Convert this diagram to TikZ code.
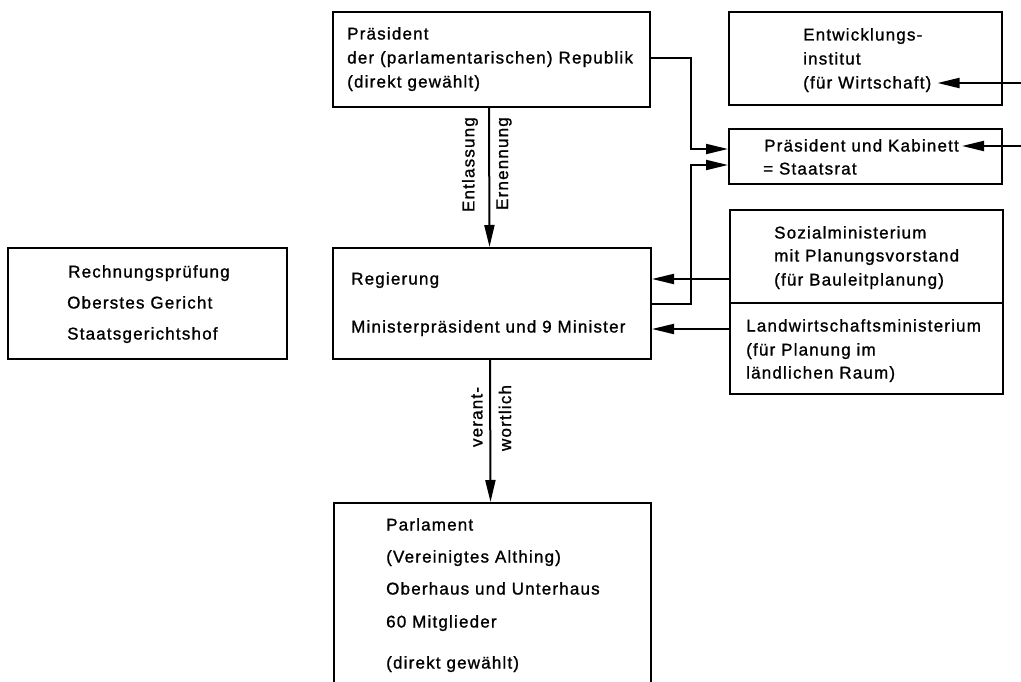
\documentclass[tikz,border=0pt]{standalone}
\usepackage{fontspec}
\setmainfont{Liberation Sans}[LetterSpace=7,FakeBold=1.1]
\usetikzlibrary{arrows.meta}
\begin{document}
\begin{tikzpicture}[x=1pt,y=-1pt,
  box/.style={draw, line width=2pt, inner sep=0pt, anchor=north west},
  txt/.style={anchor=base west, inner sep=0pt, font=\fontsize{17}{20}\selectfont},
  rot/.style={rotate=90, inner sep=0pt, font=\fontsize{17}{20}\selectfont},
  arr/.style={line width=2pt, -{Triangle[length=22pt,width=10pt]}}]
\useasboundingbox (0,0) rectangle (1021,682);
\clip (0,0) rectangle (1021,682);
\fill[white] (0,0) rectangle (1021,682);
% boxes
\node[box, minimum width=317pt, minimum height=95pt] (pres) at (332,11) {};
\node[box, minimum width=273pt, minimum height=93pt] (entw) at (728,11) {};
\node[box, minimum width=273pt, minimum height=55pt] (kab) at (728,128) {};
\node[box, minimum width=273pt, minimum height=93pt] (soz) at (729,209) {};
\node[box, minimum width=273pt, minimum height=91pt] (land) at (729,302) {};
\node[box, minimum width=318pt, minimum height=111pt] (reg) at (332,247) {};
\node[box, minimum width=317pt, minimum height=200pt] (parl) at (333,502) {};
\node[box, minimum width=279pt, minimum height=111pt] (kontr) at (7,247) {};
% texts
\node[txt] (pr1) at (347,39.5) {Präsident};
\node[txt] (pr2) at (347,63.5) {der (parlamentarischen) Republik};
\node[txt] (pr3) at (347,87.5) {(direkt gewählt)};
\node[txt] (ew1) at (803,40.5) {Entwicklungs-};
\node[txt] (ew2) at (803,64.5) {institut};
\node[txt] (ew3) at (803,88.5) {(für Wirtschaft)};
\node[txt] (kb1) at (764,151.5) {Präsident und Kabinett};
\node[txt] (kb2) at (763,174.5) {= Staatsrat};
\node[txt] (sz1) at (774,238.5) {Sozialministerium};
\node[txt] (sz2) at (774,261.5) {mit Planungsvorstand};
\node[txt] (sz3) at (774,285.5) {(für Bauleitplanung)};
\node[txt] (lw1) at (746,331.5) {Landwirtschaftsministerium};
\node[txt] (lw2) at (746,355.5) {(für Planung im};
\node[txt] (lw3) at (746,378.5) {ländlichen Raum)};
\node[txt] (rg1) at (351,284.5) {Regierung};
\node[txt] (rg2) at (351,332.5) {Ministerpräsident und 9 Minister};
\node[txt] (pa1) at (386,530.5) {Parlament};
\node[txt] (pa2) at (386,562.5) {(Vereinigtes Althing)};
\node[txt] (pa3) at (386,594.5) {Oberhaus und Unterhaus};
\node[txt] (pa4) at (386,627.5) {60 Mitglieder};
\node[txt] (pa5) at (386,668.5) {(direkt gewählt)};
\node[txt] (kt1) at (68,277.5) {Rechnungsprüfung};
\node[txt] (kt2) at (67,308.5) {Oberstes Gericht};
\node[txt] (kt3) at (67,339.5) {Staatsgerichtshof};
% rotated labels
\node[rot, anchor=east] (en) at (470,117) {Entlassung};
\node[rot, anchor=east] (er) at (504,117) {Ernennung};
\node[rot] (ve) at (477,417) {verant-};
\node[rot] (wo) at (505,418) {wortlich};
% connectors
\draw[arr] ([xshift=-2.5pt]pres.south) -- ([xshift=-2.5pt]reg.north);
\draw[arr] ([xshift=-2pt]reg.south) -- ([xshift=-2pt]parl.north);
\draw[arr] ([yshift=1.5pt]pres.east) -- ++(40,0) |- ([yshift=7.5pt]kab.west);
\draw[arr] (reg.east) -- ++(39,0) |- ([yshift=-8.5pt]kab.west);
\coordinate (s1) at ([yshift=-22.5pt]soz.west);
\draw[arr] (s1) -- (s1 -| reg.east);
\coordinate (l1) at ([yshift=19.5pt]land.west);
\draw[arr] (l1) -- (l1 -| reg.east);
\coordinate (r1) at (1021,83);
\draw[arr, shorten >=6pt] (r1) -- (r1 -| ew3.east);
\coordinate (r2) at (1021,146);
\draw[arr, shorten >=3pt] (r2) -- (r2 -| kb1.east);
\end{tikzpicture}
\end{document}
